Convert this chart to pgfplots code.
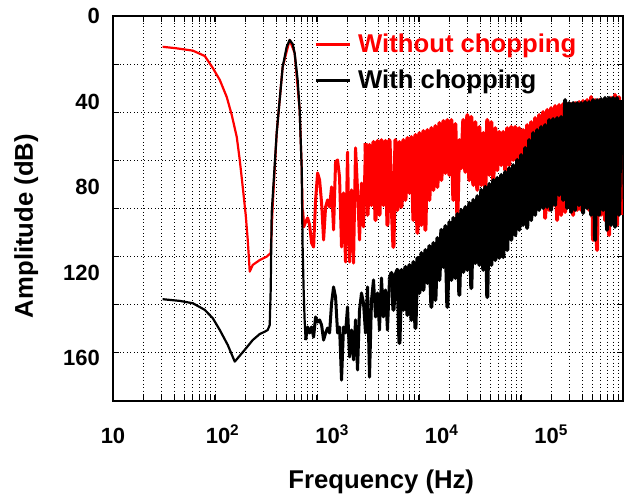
\documentclass[border=0pt]{standalone}
\usepackage{pgfplots}
\pgfplotsset{compat=1.18}
\usepackage{fontspec}
\setmainfont{Liberation Sans}
\begin{document}
\begin{tikzpicture}
\path[use as bounding box] (-113pt,-93pt) rectangle (511pt,401pt);
\begin{axis}[
 at={(0pt,0pt)}, anchor=south west,
 scale only axis, width=510pt, height=385pt,
 xmode=log, xmin=10, xmax=452910,
 ymin=0, ymax=180, y dir=reverse,
 xtick={10,100,1000,10000,100000},
 xticklabels={10,10\textsuperscript{2},10\textsuperscript{3},10\textsuperscript{4},10\textsuperscript{5}},
 ytick={0,40,80,120,160},
 yticklabels={0,40,80,120,160},
 xtick style={draw=none}, ytick style={draw=none},
 major tick length=6pt, minor tick length=0pt,
 xmajorgrids=false, ymajorgrids=false, xminorgrids=false, yminorgrids=false,
 extra x ticks={19.07,27.82,36.36,44.76,53.04,61.23,69.34,77.37,85.35,162.8,237.4,310.3,382.0,452.7,522.6,591.8,660.4,728.5,1389.5,2026,2648,3260,3864,4460,5051,5637,6217,11859,17294,22604,27827,32977,38070,43110,48107,53065,101217,147604,192925,237503,281459,324927,367944,410593},
 extra x tick labels={},
 extra x tick style={xmajorgrids=true, xtick style={draw=black, line width=1.2pt}},
 extra y ticks={22.5,45,67.5,90,112.5,135,157.5},
 extra y tick labels={},
 extra y tick style={ymajorgrids=true, ytick style={draw=black, line width=1.2pt}},
 major grid style={black, line width=0.9pt, dash pattern=on 0.9pt off 2.6pt},
 axis line style={line width=1.5pt},
 tick label style={font=\bfseries\fontsize{22}{24}\selectfont},
 xticklabel style={anchor=base, inner sep=0pt, yshift=-42pt},
 yticklabel style={anchor=east, inner sep=0pt, xshift=-13pt},
 xlabel={Frequency (Hz)},
 xlabel style={at={(axis description cs:0.526,-0.226)}, anchor=base, font=\bfseries\fontsize{25.7}{28}\selectfont},
 ylabel={Amplitude (dB)},
 ylabel style={at={(axis description cs:-0.1569,0.4545)}, anchor=base, font=\bfseries\fontsize{25.7}{28}\selectfont},
 legend style={draw=none, fill=none, at={(axis description cs:0.394,0.959)}, anchor=north west, font=\bfseries\fontsize{25.7}{28}\selectfont, inner sep=0pt, row sep=12pt, /tikz/every odd column/.append style={column sep=5pt}},
 legend cell align=left,
 legend image code/.code={\draw[#1, line width=3pt] (0pt,0pt) -- (34pt,0pt);},
]
\addplot[red, line width=2.2pt, line join=round] coordinates {
(28.4,14.4)(36.7,15.0)(53.6,16.2)(68.9,18.7)(81.5,24.3)(94.4,29.9)(109.3,37.9)(121.4,46.3)(134.9,56.6)(143.6,67.3)(152.9,79.9)(162.8,93.0)(169.9,104.7)(177.2,119.5)(188.7,116.4)(218.5,114.1)(253.2,112.5)(275.2,110.8)(281.0,100.0)(287.1,88.4)(312.2,54.7)(354.0,23.8)(410.1,11.2)(455.3,17.3)(505.8,43.9)(527.5,70.1)(538.5,90.7)(550.1,98.6)
};
\addlegendentry{\textcolor{red}{Without chopping}}
\addplot[red, line width=3pt, line join=round, forget plot] coordinates {
(538.5,90.7)(550.1,98.6)(573.7,96.3)(598.3,94.4)(623.7,97.7)(650.4,106.1)(678.3,108.0)(707.4,86.0)(737.7,73.4)(769.4,76.7)(802.4,87.4)(836.8,104.7)(872.6,89.3)(910.1,86.0)(949.0,89.3)(989.7,79.9)(1032,100.0)(1076,68.3)(1123,67.3)(1170,75.3)(1220,108.0)(1272,82.7)(1327,115.0)(1384,63.6)(1444,115.0)(1506,81.3)(1570,115.5)(1638,61.7)(1708,81.3)(1781,104.7)(1857,78.1)(1937,98.6)(2020,59.4)
};
\addplot[red, line width=4pt, line join=round, forget plot] coordinates {
(2020,59.4)(2107,93.0)(2197,60.3)(2291,88.4)(2389,58.9)(2492,95.4)(2599,58.4)(2709,93.0)(2825,58.0)(2946,88.4)(3072,58.4)(3204,97.7)(3342,58.0)(3485,86.0)(3635,108.0)(3790,58.0)(3953,90.7)(4121,58.9)(4298,89.3)(4482,58.0)(4674,86.0)(4874,57.0)(5084,82.7)(5302,56.6)(5529,95.4)(5766,55.6)(6013,101.4)(6271,54.7)(6540,97.7)(6820,53.8)(7113,100.0)(7418,53.3)(7735,86.0)(8067,52.4)(8412,81.3)(8773,51.4)(9149,79.9)(9539,50.0)(9948,76.7)(10374,49.1)(10819,73.4)(11283,48.6)(11770,74.3)(12275,48.6)(12801,86.0)(13349,50.5)(13922,94.0)(14510,58.0)(15132,71.1)(15781,48.6)(16457,72.9)(17163,46.3)(17900,76.7)(18667,47.2)(19468,79.0)(20302,49.6)(21173,81.3)(22080,51.9)(23027,79.0)(24014,54.7)(25043,81.3)(26116,48.6)(27240,74.3)(28408,49.6)(29625,76.7)(30895,52.4)(32220,72.0)(33600,54.2)(35040,69.7)(36542,54.2)(38109,72.0)(39742,52.4)(41440,69.7)(43216,51.9)(45069,67.3)(47001,51.9)(49016,67.3)(51110,52.4)(53301,72.0)(55586,53.3)(57969,74.3)(60454,51.0)(63040,76.7)(65742,49.6)(68561,81.3)(71500,47.7)(74565,83.7)(77770,46.3)(81104,86.0)(84580,44.9)(88205,94.4)(91986,43.9)(95900,90.7)(100010,43.0)(104300,88.4)(108770,42.1)(113430,95.4)(118300,41.6)(123370,93.0)(128660,41.1)(134180,91.6)(139930,41.1)(145900,88.4)(152150,41.1)(158680,93.0)(165480,40.7)(172570,90.7)(179900,40.2)(187610,90.7)(195650,39.7)(204040,88.4)(212790,39.3)(221900,90.7)(231410,37.9)(241330,104.7)(251680,39.3)(262470,109.4)(273800,39.3)(285540,93.0)(297780,40.2)(310540,95.4)(323850,39.3)(337700,102.4)(352180,38.3)(367270,95.4)(383010,36.9)(399440,97.7)(416500,37.9)(434350,93.0)
};
\addplot[black, line width=2.2pt, line join=round] coordinates {
(28.4,132.4)(40.8,133.2)(53.6,134.3)(68.9,137.4)(81.5,141.3)(94.4,146.8)(111.6,153.8)(129.3,161.6)(159.4,156.1)(188.7,151.5)(218.5,148.7)(242.6,147.6)(258.4,146.8)(269.6,144.5)(275.2,128.1)(281.0,92.1)(312.2,54.7)(354.0,23.8)(384.9,14.5)(410.1,11.2)(436.6,13.1)(455.3,17.3)(484.9,29.9)(505.8,43.9)(527.5,70.6)(538.5,108.0)(550.1,128.1)(561.6,142.1)(573.7,151.5)
};
\addlegendentry{With chopping}
\addplot[black, line width=3pt, line join=round, forget plot] coordinates {
(573.7,151.5)(598.3,145.4)(623.7,148.2)(650.4,145.4)(678.3,150.1)(707.4,140.7)(737.7,143.1)(769.4,142.1)(802.4,144.5)(836.8,151.5)(872.6,148.2)(910.1,145.9)(949.0,148.2)(989.7,134.2)(1032,126.7)(1076,131.4)(1123,148.2)(1170,145.4)(1220,170.2)(1272,145.4)(1327,148.2)(1384,136.0)(1444,159.4)(1506,146.8)(1570,160.8)(1638,142.1)(1708,165.5)(1781,137.4)(1857,129.5)(1937,134.2)(2020,148.2)(2107,126.7)(2197,168.8)(2291,132.8)(2389,123.4)(2492,140.7)(2599,129.5)(2709,146.8)(2825,122.5)(2946,140.7)(3072,128.1)(3204,146.8)(3342,123.4)
};
\addplot[black, line width=4pt, line join=round, forget plot] coordinates {
(3342,123.4)(3485,120.1)(3635,137.4)(3790,121.1)(3953,118.7)(4121,152.9)(4298,118.7)(4482,137.4)(4674,117.3)(4874,139.8)(5084,116.4)(5302,142.1)(5529,115.0)(5766,145.9)(6013,113.1)(6271,129.5)(6540,110.8)(6820,128.1)(7113,109.4)(7418,124.8)(7735,107.5)(8067,136.0)(8412,106.1)(8773,132.8)(9149,103.8)(9539,123.4)(9948,100.0)(10374,117.3)(10819,98.2)(11283,136.0)(11770,96.3)(12275,123.4)(12801,94.4)(13349,122.5)(13922,92.6)(14510,130.4)(15132,90.7)(15781,119.7)(16457,89.3)(17163,118.7)(17900,87.4)(18667,127.2)(19468,86.0)(20302,115.5)(21173,84.2)(22080,116.4)(23027,81.3)(24014,118.7)(25043,79.9)(26116,131.4)(27240,78.5)(28408,116.4)(29625,76.7)(30895,114.1)(32220,75.7)(33600,113.1)(35040,74.3)(36542,112.7)(38109,72.9)(39742,109.4)(41440,71.1)(43216,104.7)(45069,69.7)(47001,102.4)(49016,67.3)(51110,100.0)(53301,65.0)(55586,97.7)(57969,61.7)(60454,99.1)(63040,58.0)(65742,95.4)(68561,54.7)(71500,93.0)(74565,53.3)(77770,90.7)(81104,51.9)(84580,89.8)(88205,51.0)(91986,89.3)(95900,48.6)(100010,90.7)(104300,48.2)(108770,88.4)(113430,47.7)(118300,83.7)(123370,47.2)(128660,86.0)(134180,39.3)(139930,89.8)(145900,40.7)(152150,91.6)(158680,40.7)(165480,90.7)(172570,40.7)(179900,88.4)(187610,40.7)(195650,92.1)(204040,40.2)(212790,89.8)(221900,40.2)(231410,93.0)(241330,39.3)(251680,104.7)(262470,39.3)(273800,93.0)(285540,38.8)(297780,90.7)(310540,38.3)(323850,100.0)(337700,38.3)(352180,97.7)(367270,38.3)(383010,98.6)(399440,38.3)(416500,93.0)(434350,39.3)
};
\end{axis}
\end{tikzpicture}
\end{document}
